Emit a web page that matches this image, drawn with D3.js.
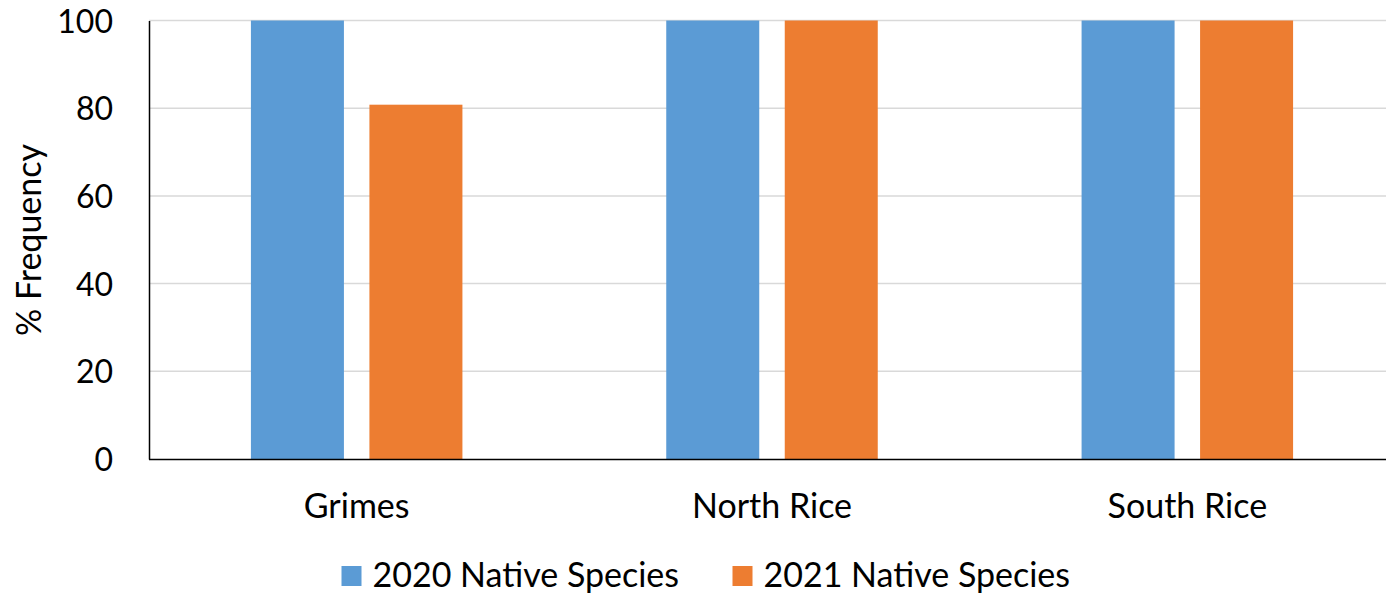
<!DOCTYPE html>
<html><head><meta charset="utf-8">
<script src="https://cdn.jsdelivr.net/npm/d3@7"></script>
<style>body{margin:0;background:#fff}svg{display:block}text{font-family:Lato,"Open Sans",sans-serif;fill:#000}</style>
</head><body>
<script>
const categories = ["Grimes", "North Rice", "South Rice"];
const seriesNames = ["2020 Native Species", "2021 Native Species"];
const values2020 = [100, 100, 100];
const values2021 = [80.8, 100, 100];
const yTicks = [0, 20, 40, 60, 80, 100];
const colors = ["#5b9bd5", "#ed7d31"];

(function () {
const W = 1386, H = 597;
const svg = d3.select("body").append("svg").attr("width", W).attr("height", H);
const pLeft = 149, pRight = 1395, pTop = 20.5, pBottom = 459;

const x = d3.scaleBand().domain(categories).range([pLeft, pRight]).paddingInner(0).paddingOuter(0);
const y = d3.scaleLinear().domain([0, 100]).range([pBottom, pTop]);

svg.append("g").selectAll("line").data(yTicks.filter(d => d > 0)).join("line")
  .attr("x1", pLeft).attr("x2", W).attr("y1", d => y(d)).attr("y2", d => y(d))
  .attr("stroke", "#d9d9d9").attr("stroke-width", 1.5);

const barW = 93, gap = 25.5;
const data = categories.map((c, i) => ({c, v: [values2020[i], values2021[i]]}));
const g = svg.append("g");
data.forEach(d => {
  const cx = x(d.c) + x.bandwidth() / 2;
  d.v.forEach((v, j) => {
    const x0 = cx - gap / 2 - barW + j * (barW + gap);
    g.append("rect").attr("x", x0).attr("width", barW)
      .attr("y", y(v)).attr("height", y(0) - y(v)).attr("fill", colors[j]);
  });
});

const yAxis = d3.axisLeft(y).tickValues(yTicks).tickSize(0).tickPadding(36);
const ya = svg.append("g").attr("transform", `translate(${pLeft},0)`).call(yAxis);
ya.select(".domain").attr("stroke", "#000").attr("stroke-width", 1.5);
ya.selectAll("text").style("font-size", "32px").style("font-family", "Lato,sans-serif").attr("dy", "0.36em");

const xAxis = d3.axisBottom(x).tickSize(0).tickPadding(35);
const xa = svg.append("g").attr("transform", `translate(0,${pBottom})`).call(xAxis);
xa.select(".domain").attr("d", `M${pLeft},0.5H${W}`).attr("stroke", "#000").attr("stroke-width", 1.5);
xa.selectAll("text").style("font-size", "34px").style("font-family", "Lato,sans-serif");

svg.append("text").attr("transform", `translate(41,240) rotate(-90)`)
  .attr("text-anchor", "middle").style("font-size", "34px").text("% Frequency");

const legX = [341.5, 732.5];
seriesNames.forEach((s, j) => {
  svg.append("rect").attr("x", legX[j]).attr("y", 566).attr("width", 20).attr("height", 20).attr("fill", colors[j]);
  svg.append("text").attr("x", legX[j] + 31).attr("y", 587).style("font-size", "34px").text(s);
});
})();
</script>
</body></html>
